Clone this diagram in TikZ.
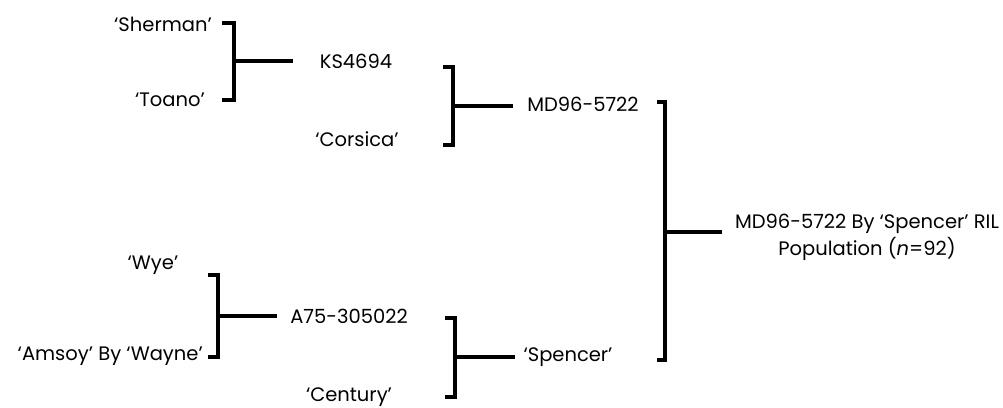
\documentclass[tikz,border=0pt]{standalone}
\usepackage{fontspec}
\setmainfont{Poppins}
\begin{document}
\begin{tikzpicture}[x=1pt,y=-1pt,
  lbl/.style={inner sep=0pt,font=\fontsize{19.5}{27}\selectfont},
  brk/.style={line width=3.2pt,line join=miter}]
\useasboundingbox (0,0) rectangle (1003,407);
% labels
\node[lbl,anchor=east] (sher) at (212,24) {‘Sherman’};
\node[lbl,anchor=east] (toano) at (205,100) {‘Toano’};
\node[lbl] (ks) at (356,61) {KS4694};
\node[lbl] (cors) at (357,139) {‘Corsica’};
\node[lbl] (md) at (583,104) {MD96-5722};
\node[lbl] (wye) at (153,265) {‘Wye’};
\node[lbl,anchor=east] (amsoy) at (203,356) {‘Amsoy’ By ‘Wayne’};
\node[lbl] (a75) at (349,316) {A75-305022};
\node[lbl] (cent) at (349,397) {‘Century’};
\node[lbl] (spen) at (568,357) {‘Spencer’};
\node[lbl,align=center] (ril) at (867,237) {MD96-5722 By ‘Spencer’ RIL\\Population (\textit{n}=92)};
% bracket coordinates
\coordinate (b1a) at (222,23); \coordinate (b1b) at (234,23);
\coordinate (b1c) at (234,100); \coordinate (b1d) at (222,100);
\coordinate (b1m) at (234,61); \coordinate (b1e) at (293,61);
\coordinate (b2a) at (443,67); \coordinate (b2b) at (453,67);
\coordinate (b2c) at (453,145); \coordinate (b2d) at (443,145);
\coordinate (b2m) at (453,106); \coordinate (b2e) at (513,106);
\coordinate (b3a) at (657,102); \coordinate (b3b) at (665,102);
\coordinate (b3c) at (665,360); \coordinate (b3d) at (657,360);
\coordinate (b3m) at (665,232); \coordinate (b3e) at (722,232);
\coordinate (b4a) at (208,275); \coordinate (b4b) at (218,275);
\coordinate (b4c) at (218,357); \coordinate (b4d) at (208,357);
\coordinate (b4m) at (218,316); \coordinate (b4e) at (277,316);
\coordinate (b5a) at (445,318); \coordinate (b5b) at (455,318);
\coordinate (b5c) at (455,397); \coordinate (b5d) at (445,397);
\coordinate (b5m) at (455,357); \coordinate (b5e) at (515,357);
\foreach \b in {b1,b2,b3,b4,b5}{
  \draw[brk] (\b a) -- (\b b) -- (\b c) -- (\b d);
  \draw[brk] (\b m) -- (\b e);
}
\end{tikzpicture}
\end{document}
